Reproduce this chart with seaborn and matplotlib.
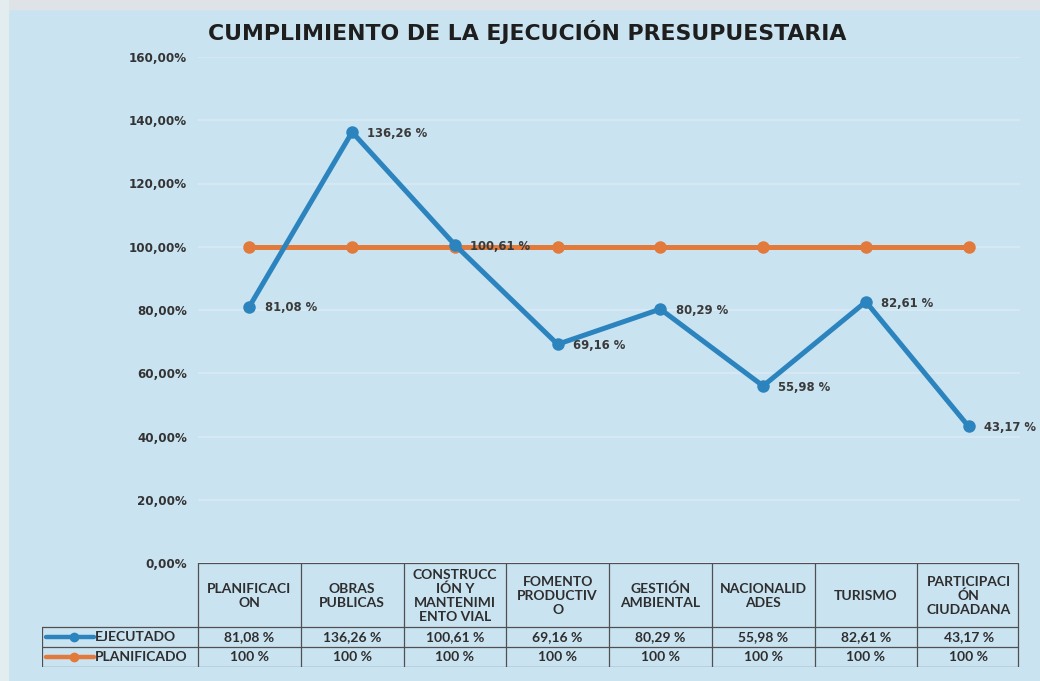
import matplotlib.pyplot as plt
import numpy as np
import pandas as pd
import seaborn as sns

categories = [
    "PLANIFICACI\nON",
    "OBRAS\nPUBLICAS",
    "CONSTRUCC\nIÓN Y\nMANTENIMI\nENTO VIAL",
    "FOMENTO\nPRODUCTIV\nO",
    "GESTIÓN\nAMBIENTAL",
    "NACIONALID\nADES",
    "TURISMO",
    "PARTICIPACI\nÓN\nCIUDADANA",
]
ejecutado = [81.08, 136.26, 100.61, 69.16, 80.29, 55.98, 82.61, 43.17]
planificado = [100, 100, 100, 100, 100, 100, 100, 100]
ejecutado_labels = ["81,08 %", "136,26 %", "100,61 %", "69,16 %", "80,29 %", "55,98 %", "82,61 %", "43,17 %"]
planificado_labels = ["100 %"] * 8
yticks = [0, 20, 40, 60, 80, 100, 120, 140, 160]

BG = "#cae3f1"
BLUE = "#2c84bf"
ORANGE = "#e27a3b"
TEXT = "#2e2e2e"

sns.set_theme(style="white")
plt.rcParams["font.family"] = ["Lato", "DejaVu Sans"]

df = pd.DataFrame({
    "pos": list(range(len(categories))) * 2,
    "valor": ejecutado + planificado,
    "serie": ["EJECUTADO"] * 8 + ["PLANIFICADO"] * 8,
})

W, H = 1040, 681
fig = plt.figure(figsize=(W / 100, H / 100), dpi=100, facecolor=BG)

# light scanner margin at top / left
fig.patches.append(plt.Rectangle((0, 1 - 9 / H), 1, 9 / H, transform=fig.transFigure,
                                 color="#dfe3e8", zorder=0))
fig.patches.append(plt.Rectangle((0, 0), 8 / W, 1, transform=fig.transFigure,
                                 color="#e3ecef", zorder=0))

x0, x1, y0, y1 = 198, 1020, 563, 57
ax = fig.add_axes([x0 / W, 1 - y0 / H, (x1 - x0) / W, (y0 - y1) / H])
ax.set_facecolor(BG)

sns.lineplot(data=df, x="pos", y="valor", hue="serie", palette=[BLUE, ORANGE],
             hue_order=["EJECUTADO", "PLANIFICADO"], marker="o", markersize=9,
             markeredgewidth=0, linewidth=3.6, legend=False, ax=ax)
for line in ax.lines:
    line.set_zorder(3 if line.get_color() == BLUE else 2)

ax.set_xlim(-0.5, len(categories) - 0.5)
ax.set_ylim(0, 160)
ax.set_yticks(yticks)
ax.set_yticklabels([f"{v},00%" for v in yticks], fontsize=8.6, color="#333333",
                   family="DejaVu Sans", fontweight="bold")
ax.set_xticks([])
ax.set_xlabel("")
ax.set_ylabel("")
ax.tick_params(axis="y", length=0, pad=8)
for s in ax.spines.values():
    s.set_visible(False)
ax.grid(axis="y", color="#d9eaf5", linewidth=1.2)
ax.set_axisbelow(True)

for i, (v, lab) in enumerate(zip(ejecutado, ejecutado_labels)):
    ax.annotate(lab, (i, v), xytext=(11, -1), textcoords="offset points",
                ha="left", va="center", fontsize=8.4, color="#3a3a3a",
                family="DejaVu Sans", fontweight="bold")

fig.text(527 / W, 1 - 32 / H, "CUMPLIMIENTO DE LA EJECUCIÓN PRESUPUESTARIA",
         ha="center", va="center", fontsize=15.8, fontweight="bold", color="#1e1e1e",
         family="DejaVu Sans")

# data table below the plot
tx0, ty1 = 42, 667
tax = fig.add_axes([tx0 / W, 1 - ty1 / H, (x1 - tx0) / W, (ty1 - y0) / H])
unit = (x1 - x0) / len(categories)
left = -0.5 - (x0 - tx0) / unit
tax.set_xlim(left, len(categories) - 0.5)
tax.set_ylim(ty1 - y0, 0)
tax.axis("off")
tax.patch.set_alpha(0)

n = len(categories)
lc = "#505050"
lw = 0.9
right = n - 0.52
h_head, h_row = 64, 20
tax.plot([-0.5, right], [0, 0], color=lc, lw=lw)
for yy in [h_head, h_head + h_row, h_head + 2 * h_row]:
    tax.plot([left, right], [yy, yy], color=lc, lw=lw)
for k in range(n + 1):
    xx = k - 0.5 if k < n else right
    tax.plot([xx, xx], [0, h_head + 2 * h_row], color=lc, lw=lw)
tax.plot([left, left], [h_head, h_head + 2 * h_row], color=lc, lw=lw)

fs = 10
for i, cat in enumerate(categories):
    tax.text(i, h_head / 2 + 1, cat, ha="center", va="center", fontsize=fs,
             color=TEXT, linespacing=1.2, fontweight="bold")
    tax.text(i, h_head + h_row / 2, ejecutado_labels[i], ha="center", va="center",
             fontsize=fs, color=TEXT, fontweight="bold")
    tax.text(i, h_head + 1.5 * h_row, planificado_labels[i], ha="center", va="center",
             fontsize=fs, color=TEXT, fontweight="bold")

for r, (name, col) in enumerate([("EJECUTADO", BLUE), ("PLANIFICADO", ORANGE)]):
    yy = h_head + (r + 0.5) * h_row
    kx0 = left + 4 / unit
    kx1 = left + 52 / unit
    tax.plot([kx0, kx1], [yy, yy], color=col, lw=3.2)
    tax.plot([left + 32 / unit], [yy], "o", color=col, markersize=6)
    tax.text(kx1 + 1 / unit, yy, name, ha="left", va="center", fontsize=fs,
             color=TEXT, fontweight="bold")

fig.savefig("out.png", dpi=100, facecolor=BG)
